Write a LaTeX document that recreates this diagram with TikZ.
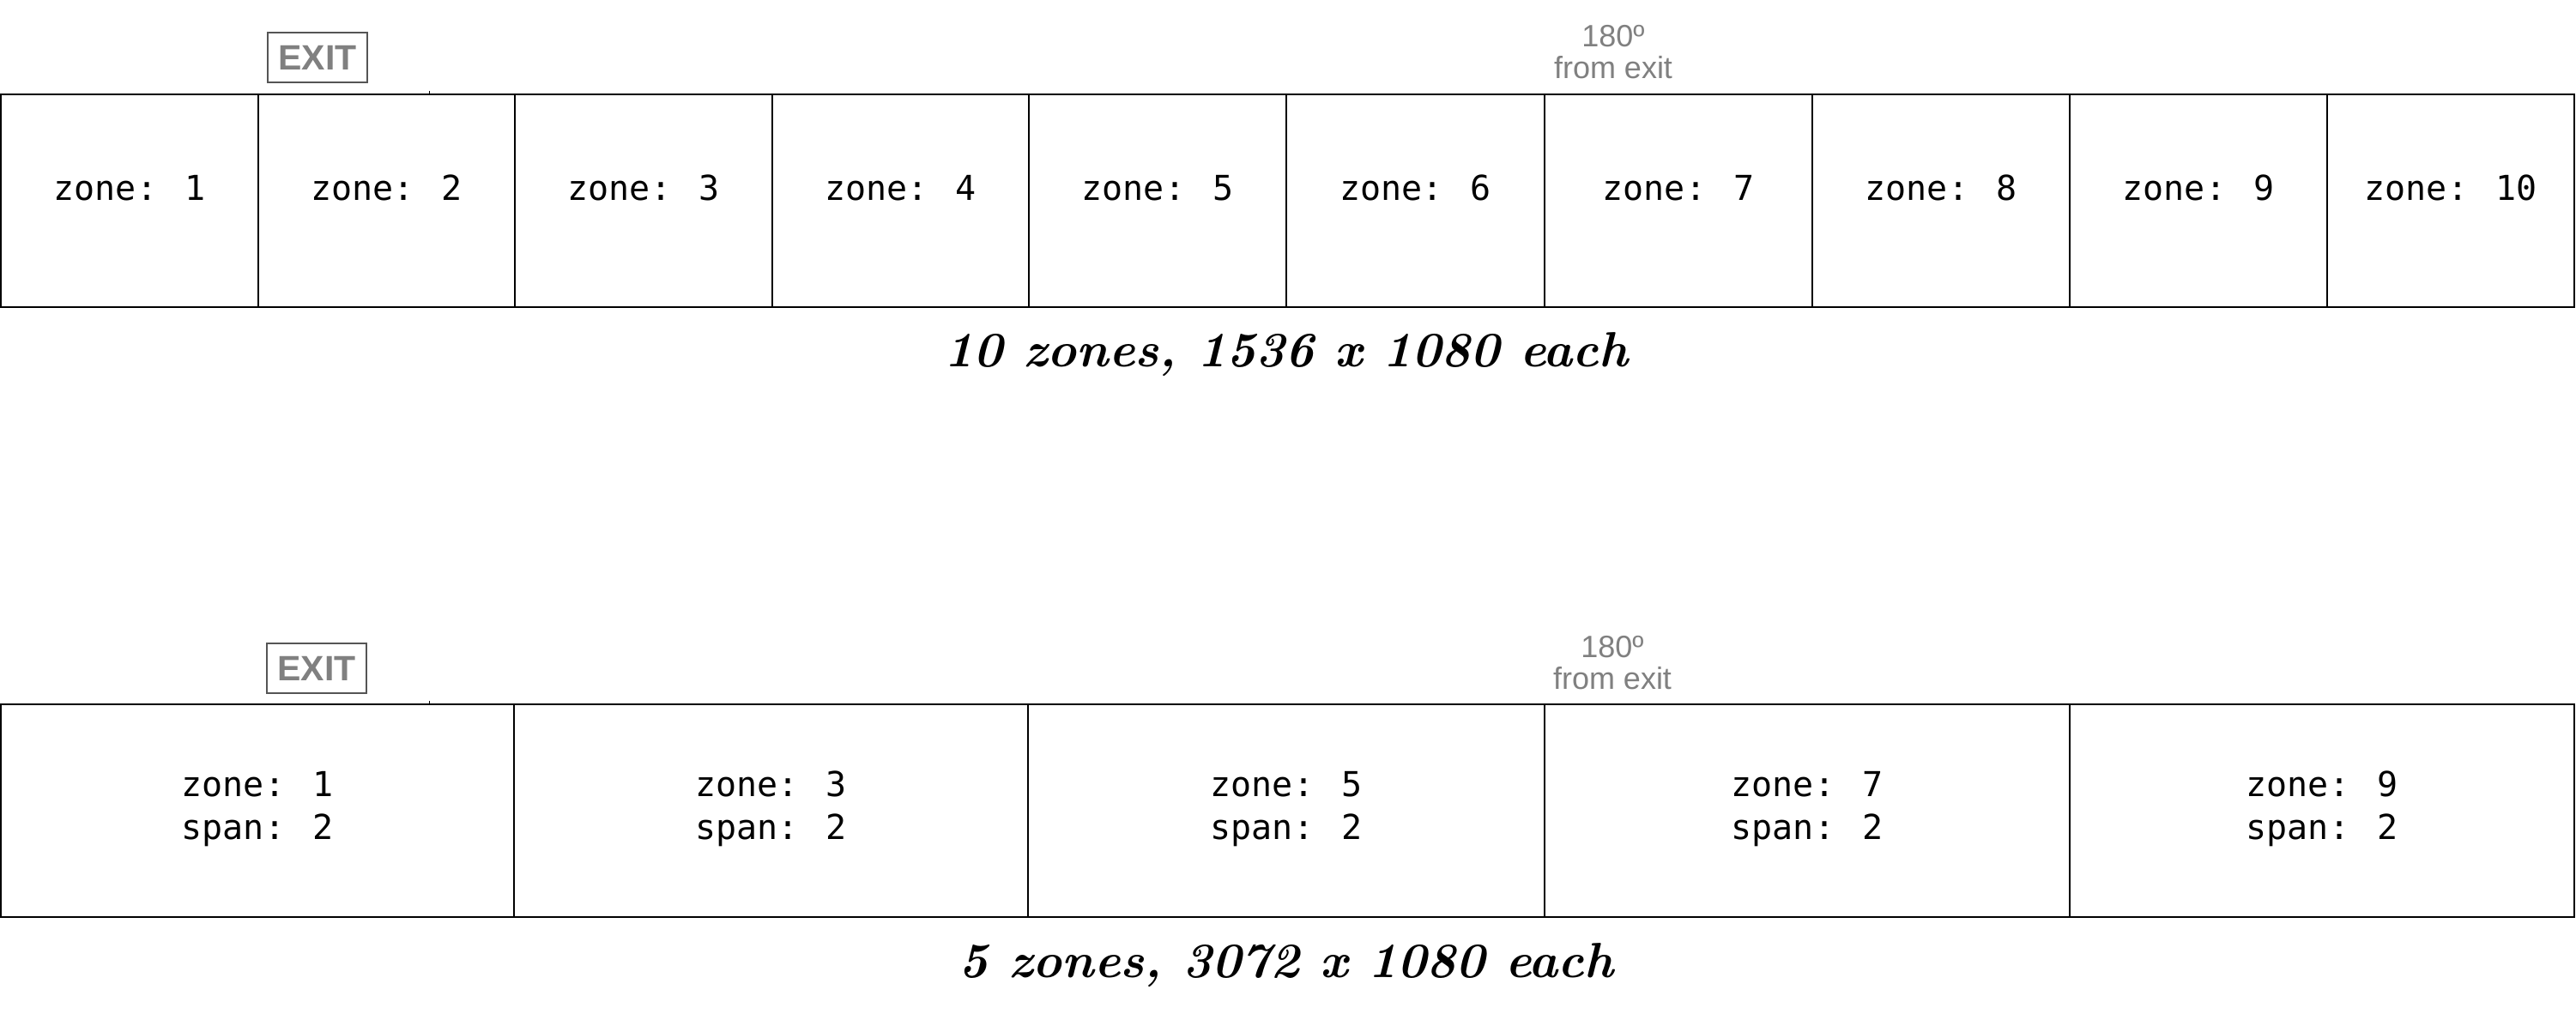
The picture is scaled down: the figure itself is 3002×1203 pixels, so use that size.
\documentclass[tikz,border=0pt]{standalone}
\usepackage{fontspec}
\newfontfamily\arialfont{Liberation Sans}
\newfontfamily\monofont{DejaVu Sans Mono}
\definecolor{txtgray}{HTML}{808080}
\definecolor{exitborder}{HTML}{555555}
\tikzset{
  cell/.style={draw=black, line width=1pt, rectangle, inner sep=0pt, outer sep=0pt, anchor=north west},
  zonetxt/.style={font=\monofont\fontsize{20}{25}\selectfont, inner sep=0pt, align=center},
  exitbox/.style={draw=exitborder, line width=1pt, rectangle, inner sep=0pt, minimum width=58pt, minimum height=29pt, font=\arialfont\bfseries\fontsize{20.5}{20.5}\selectfont, text=txtgray},
  degtxt/.style={font=\arialfont\fontsize{18}{18.5}\selectfont, text=txtgray, align=center, inner sep=0pt, anchor=north},
  titletxt/.style={font=\bfseries\itshape\fontsize{28.8}{34}\selectfont, inner sep=0pt, anchor=base},
  tick/.style={line width=0.5pt}
}
\begin{document}
\begin{tikzpicture}[x=0.5pt,y=-0.5pt]
\useasboundingbox (0,0) rectangle (3002,1203);
% ---- top row: 10 zones
\foreach \xa/\xb/\n in {1/301/1,301/600/2,600/900/3,900/1199/4,1199/1499/5,1499/1800/6,1800/2112/7,2112/2412/8,2412/2712/9,2712/3000/10}{
  \pgfmathsetmacro{\w}{(\xb-\xa)*0.5}
  \node[cell, minimum width=\w pt, minimum height=124pt] (a\n) at (\xa,110) {};
  \node[zonetxt, anchor=base] (ta\n) at (a\n.center) {zone: \n};
}
\node[exitbox] (exit1) at (370,67) {EXIT};
\draw[tick] (500,106) -- (500,110);
\node[degtxt] (deg1) at (1880,29) {180º\\from exit};
\node[titletxt] (title1) at (1499,428) {10 zones, 1536 x 1080 each};
% ---- bottom row: 5 zones
\foreach \xa/\xb/\n in {1/599/1,599/1198/3,1198/1800/5,1800/2412/7,2412/3000/9}{
  \pgfmathsetmacro{\w}{(\xb-\xa)*0.5}
  \node[cell, minimum width=\w pt, minimum height=124pt] (b\n) at (\xa,821) {};
  \node[zonetxt, anchor=north] (tb\n) at ([yshift=23.25pt]b\n.center) {zone: \n\\span: 2};
}
\node[exitbox] (exit2) at (369,779) {EXIT};
\draw[tick] (500,817) -- (500,821);
\node[degtxt] (deg2) at (1879,741) {180º\\from exit};
\node[titletxt] (title2) at (1499,1139) {5 zones, 3072 x 1080 each};
\end{tikzpicture}
\end{document}
